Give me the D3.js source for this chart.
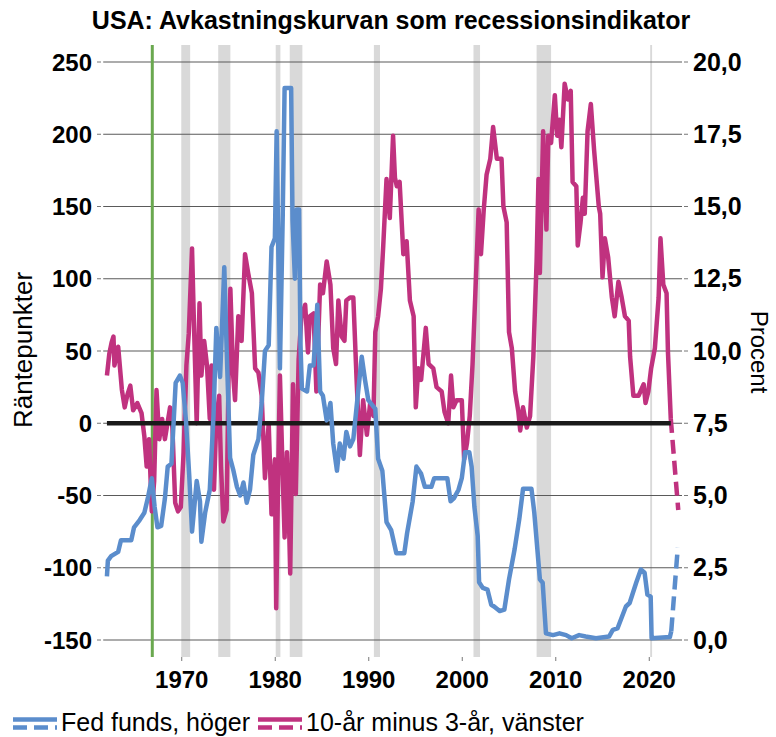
<!DOCTYPE html>
<html>
<head>
<meta charset="utf-8">
<script src="https://cdn.jsdelivr.net/npm/d3@7"></script>
<style>
  body { margin: 0; background: #fff; }
  svg { font-family: "Liberation Sans", Arial, sans-serif; }
</style>
</head>
<body>
<div class="container"></div>
<script>
// 10-år minus 3-år (räntepunkter, vänster axel)
const spreadYears = [1962.0, 1962.25, 1962.5, 1962.7, 1962.8, 1963.2, 1963.6, 1963.9, 1964.2, 1964.5, 1964.8, 1965.25, 1965.7, 1966.0, 1966.25, 1966.5, 1966.8, 1967.05, 1967.3, 1967.6, 1967.9, 1968.2, 1968.75, 1969.0, 1969.3, 1969.6, 1969.9,
  1970.2, 1970.5, 1970.75, 1971.1, 1971.3, 1971.6, 1971.9, 1972.1, 1972.4, 1972.7, 1973.0, 1973.2, 1973.45, 1973.7, 1974.0, 1974.2, 1974.45, 1974.8, 1975.0, 1975.2, 1975.5, 1975.7, 1976.05, 1976.4, 1976.77, 1977.1, 1977.5, 1977.85, 1978.2, 1978.55, 1978.9, 1979.3, 1979.6, 1979.96,
  1980.1, 1980.35, 1980.5, 1980.8, 1981.0, 1981.25, 1981.4, 1981.6, 1981.9, 1982.2, 1982.5, 1982.8, 1983.2, 1983.5, 1983.7, 1984.1, 1984.4, 1984.8, 1985.1, 1985.5, 1985.9, 1986.2, 1986.5, 1986.75, 1987.1, 1987.4, 1987.6, 1988.0, 1988.35, 1988.7, 1989.05, 1989.4, 1989.8,
  1990.15, 1990.5, 1990.7, 1991.0, 1991.3, 1991.55, 1991.9, 1992.25, 1992.6, 1992.8, 1993.0, 1993.3, 1993.7, 1994.05, 1994.4, 1994.8, 1995.03, 1995.3, 1995.6, 1996.1, 1996.4, 1996.9, 1997.25, 1997.8, 1998.1, 1998.5, 1998.8, 1999.05, 1999.4, 1999.95,
  2000.2, 2000.5, 2000.8, 2001.1, 2001.4, 2001.75, 2002.0, 2002.3, 2002.6, 2003.0, 2003.3, 2003.7, 2004.2, 2004.4, 2004.75, 2005.0, 2005.3, 2005.65, 2006.0, 2006.2, 2006.5, 2006.9, 2007.25, 2007.6, 2007.95, 2008.15, 2008.3, 2008.65, 2009.0, 2009.2, 2009.5, 2009.9,
  2010.15, 2010.4, 2010.6, 2010.95, 2011.3, 2011.6, 2011.8, 2012.2, 2012.35, 2012.65, 2012.9, 2013.1, 2013.4, 2013.75, 2014.1, 2014.6, 2014.75, 2015.0, 2015.25, 2015.6, 2016.0, 2016.3, 2016.7, 2017.05, 2017.4, 2017.8, 2017.95, 2018.3, 2018.85, 2019.4, 2019.6, 2019.9,
  2020.2, 2020.6, 2021.0, 2021.2, 2021.5, 2021.85, 2022.0, 2022.3];
const spreadBp = [33, 48, 56, 60, 40, 53, 23, 11, 20, 26, 9, 14, 7, -9, -30, -11, -61, -40, 23, -11, 3, -11, 11, -3, -55, -61, -58,
  -20, 40, 62, 121, 70, 0, 83, 33, 57, 40, 3, 40, -46, 3, 19, -30, -68, -60, 30, 93, 33, 16, 74, 57, 117, 104, 90, 38, 35, 19, -38, 0, -63, -25,
  -128, -20, 33, -36, -79, -20, -49, -104, 27, -49, 44, 74, 82, 49, 74, 76, 22, 96, 90, 112, 96, 52, 41, 85, 60, 57, 85, 87, 87, 30, -22, 16, -8,
  14, 5, 63, 74, 93, 123, 169, 142, 199, 170, 164, 167, 117, 126, 85, 74, 11, 38, 30, 66, 41, 38, 25, 22, 8, 0, 33, 11, 16, 16,
  -25, -14, 5, 41, 90, 148, 117, 148, 172, 183, 205, 183, 183, 150, 139, 63, 52, 22, 8, -5, 11, -3, 5, 46, 112, 169, 104, 202, 134, 199, 194, 227,
  199, 210, 191, 235, 224, 230, 167, 164, 123, 139, 156, 145, 202, 221, 189, 150, 145, 101, 128, 115, 87, 74, 98, 87, 74, 71, 46, 19, 19, 27, 14, 22,
  38, 52, 87, 128, 96, 90, 49, 3];
const spreadForecastYears = [2022.3, 2023.1];
const spreadForecastBp = [3, -60];

// Fed funds (procent, höger axel)
const fedYears = [1962.0, 1962.1, 1962.45, 1963.2, 1963.5, 1964.6, 1964.9, 1965.5, 1966.0, 1966.4, 1966.8, 1967.1, 1967.4, 1967.8, 1968.2, 1968.5, 1968.9, 1969.35, 1969.8,
  1970.1, 1970.45, 1970.8, 1971.1, 1971.6, 1971.95, 1972.1, 1972.5, 1973.0, 1973.4, 1973.7, 1974.1, 1974.55, 1974.8, 1975.17, 1975.5, 1975.9, 1976.25, 1976.6, 1976.95, 1977.3, 1977.65, 1978.2, 1978.55, 1978.9, 1979.3, 1979.6, 1979.96,
  1980.15, 1980.5, 1980.8, 1981.0, 1981.7, 1981.85, 1982.1, 1982.3, 1982.55, 1982.7, 1982.85, 1983.4, 1983.7, 1984.1, 1984.5, 1984.8, 1985.1, 1985.5, 1985.9, 1986.2, 1986.6, 1986.9, 1987.3, 1987.6, 1988.0, 1988.35, 1988.9, 1989.25, 1989.6, 1989.95,
  1990.7, 1991.0, 1991.45, 1991.9, 1992.4, 1992.95, 1993.8, 1994.1, 1994.7, 1995.1, 1995.6, 1996.0, 1996.7, 1997.0, 1998.4, 1998.75, 1999.1, 1999.6, 1999.95,
  2000.3, 2000.75, 2001.0, 2001.3, 2001.65, 2001.8, 2002.2, 2002.7, 2003.1, 2003.4, 2004.0, 2004.5, 2005.0, 2005.6, 2006.1, 2006.5, 2007.4, 2007.7, 2008.3, 2008.6, 2008.95, 2009.7,
  2010.4, 2011.1, 2011.7, 2012.5, 2013.2, 2014.3, 2015.7, 2016.1, 2016.6, 2017.5, 2017.9, 2018.6, 2019.1, 2019.5, 2019.8, 2020.15, 2020.25, 2022.2, 2022.35];
const fedPct = [2.2, 2.75, 2.9, 3.05, 3.45, 3.45, 3.9, 4.15, 4.4, 4.95, 5.6, 4.6, 3.9, 3.95, 4.9, 6.0, 6.1, 8.9, 9.15,
  8.9, 7.6, 5.7, 3.75, 5.5, 4.8, 3.4, 4.4, 5.2, 7.8, 10.8, 9.1, 12.9, 10.1, 6.3, 5.9, 5.3, 5.0, 5.45, 4.75, 5.2, 6.4, 6.95, 8.2, 10.0, 10.2, 13.6, 13.9,
  17.6, 9.4, 14.7, 19.1, 19.1, 14.5, 12.5, 14.9, 14.9, 10.2, 8.7, 8.6, 9.5, 9.5, 11.6, 8.6, 8.45, 7.6, 8.2, 6.8, 5.86, 6.8, 6.27, 7.2, 6.7, 6.95, 8.7, 9.8, 9.0, 8.3,
  8.0, 6.27, 5.86, 4.08, 3.8, 3.0, 3.0, 3.7, 4.8, 6.0, 5.75, 5.3, 5.3, 5.6, 5.6, 4.8, 4.9, 5.2, 5.6,
  6.5, 6.5, 6.0, 4.6, 3.6, 2.0, 1.8, 1.74, 1.22, 1.16, 1.0, 1.05, 2.1, 3.14, 4.19, 5.23, 5.23, 4.42, 2.1, 1.98, 0.23, 0.17,
  0.23, 0.17, 0.06, 0.17, 0.12, 0.06, 0.12, 0.35, 0.4, 1.16, 1.28, 1.98, 2.44, 2.33, 1.57, 1.5, 0.06, 0.1, 0.3];
const fedForecastYears = [2022.35, 2023.05];
const fedForecastPct = [0.3, 3.2];

// Recessioner (NBER)
const recessionStart = [1969.95, 1973.9, 1980.05, 1981.55, 1990.55, 2001.2, 2007.95, 2020.1];
const recessionEnd = [1970.9, 1975.2, 1980.55, 1982.9, 1991.2, 2001.9, 2009.5, 2020.3];
const markerYear = 1966.85;

const leftTicks = [250, 200, 150, 100, 50, 0, -50, -100, -150];
const rightTicks = [20, 17.5, 15, 12.5, 10, 7.5, 5, 2.5, 0];
const yearTicks = [1970, 1980, 1990, 2000, 2010, 2020];

const width = 776, height = 737;
const blue = '#5b8dcc', pink = '#c0327f';

const svg = d3.select('.container').append('svg')
  .attr('width', width).attr('height', height);

const x = d3.scaleLinear().domain([1961.6, 2023.5]).range([103.2, 682]);
const yL = d3.scaleLinear().domain([-150, 250]).range([640, 62]);
const yR = d3.scaleLinear().domain([0, 20]).range([640, 62]);
const plotTop = 45, plotBottom = 657;

// recession bands
svg.selectAll('rect.rec')
  .data(recessionStart.map((s, i) => [s, recessionEnd[i]]))
  .enter().append('rect')
  .attr('class', 'rec')
  .attr('x', d => x(d[0]))
  .attr('width', d => x(d[1]) - x(d[0]))
  .attr('y', plotTop).attr('height', plotBottom - plotTop)
  .attr('fill', '#d9d9d9');

// gridlines
svg.selectAll('line.grid').data(leftTicks).enter().append('line')
  .attr('x1', x.range()[0]).attr('x2', x.range()[1])
  .attr('y1', d => yL(d)).attr('y2', d => yL(d))
  .attr('stroke', '#5a5a5a').attr('stroke-width', 1.2);

// left / right axis tick marks and labels
svg.selectAll('line.lt').data(leftTicks).enter().append('line')
  .attr('x1', 97).attr('x2', 101).attr('y1', d => yL(d)).attr('y2', d => yL(d))
  .attr('stroke', '#777').attr('stroke-width', 1);
svg.selectAll('line.rt').data(rightTicks).enter().append('line')
  .attr('x1', 684).attr('x2', 688).attr('y1', d => yR(d)).attr('y2', d => yR(d))
  .attr('stroke', '#777').attr('stroke-width', 1);

svg.selectAll('text.lt').data(leftTicks).enter().append('text')
  .attr('x', 92).attr('y', d => yL(d) + 8.5)
  .attr('text-anchor', 'end')
  .attr('font-size', '24px').attr('font-weight', 'bold')
  .text(d => d);
svg.selectAll('text.rt').data(rightTicks).enter().append('text')
  .attr('x', 693).attr('y', d => yR(d) + 8.5)
  .attr('font-size', '25px').attr('font-weight', 'bold')
  .text(d => d3.format('.1f')(d).replace('.', ','));

// x ticks
svg.selectAll('line.xt').data(yearTicks).enter().append('line')
  .attr('x1', d => x(d)).attr('x2', d => x(d))
  .attr('y1', plotBottom).attr('y2', plotBottom + 4)
  .attr('stroke', '#777');
svg.selectAll('text.xt').data(yearTicks).enter().append('text')
  .attr('x', d => x(d)).attr('y', 688)
  .attr('text-anchor', 'middle')
  .attr('font-size', '24px').attr('font-weight', 'bold')
  .text(d => d);

// green marker line
svg.append('line')
  .attr('x1', x(markerYear)).attr('x2', x(markerYear))
  .attr('y1', plotTop).attr('y2', plotBottom)
  .attr('stroke', '#6aa84f').attr('stroke-width', 3);

const lineL = d3.line().x(d => x(d[0])).y(d => yL(d[1]));
const lineR = d3.line().x(d => x(d[0])).y(d => yR(d[1]));
const zip = (a, b) => a.map((v, i) => [v, b[i]]);

svg.append('path')
  .attr('d', lineL(zip(spreadYears, spreadBp)))
  .attr('fill', 'none').attr('stroke', pink).attr('stroke-width', 4.5)
  .attr('stroke-linejoin', 'round');
svg.append('path')
  .attr('d', lineL(zip(spreadForecastYears, spreadForecastBp)))
  .attr('fill', 'none').attr('stroke', pink).attr('stroke-width', 4.5)
  .attr('stroke-dasharray', '14,7');

// zero line
svg.append('line')
  .attr('x1', x(spreadYears[0])).attr('x2', x(spreadYears[spreadYears.length - 1]))
  .attr('y1', yL(0)).attr('y2', yL(0))
  .attr('stroke', '#1a1a1a').attr('stroke-width', 4.5);

svg.append('path')
  .attr('d', lineR(zip(fedYears, fedPct)))
  .attr('fill', 'none').attr('stroke', blue).attr('stroke-width', 4.5)
  .attr('stroke-linejoin', 'round');
svg.append('path')
  .attr('d', lineR(zip(fedForecastYears, fedForecastPct)))
  .attr('fill', 'none').attr('stroke', blue).attr('stroke-width', 4.5)
  .attr('stroke-dasharray', '14,7');

// title and axis titles
svg.append('text')
  .attr('x', 391).attr('y', 29)
  .attr('text-anchor', 'middle')
  .attr('font-size', '25px').attr('font-weight', 'bold')
  .text('USA: Avkastningskurvan som recessionsindikator');

svg.append('text')
  .attr('transform', 'translate(32,350) rotate(-90)')
  .attr('text-anchor', 'middle').attr('font-size', '26px')
  .text('Räntepunkter');
svg.append('text')
  .attr('transform', 'translate(751,352) rotate(90)')
  .attr('text-anchor', 'middle').attr('font-size', '24px')
  .text('Procent');

// legend
const legendItems = [
  { name: 'Fed funds, höger', color: blue, x: 13 },
  { name: '10-år minus 3-år, vänster', color: pink, x: 258 }
];
const lg = svg.selectAll('g.legend').data(legendItems).enter().append('g')
  .attr('transform', d => `translate(${d.x},0)`);
lg.append('line').attr('x1', 0).attr('x2', 44).attr('y1', 719.5).attr('y2', 719.5)
  .attr('stroke', d => d.color).attr('stroke-width', 4.5);
lg.append('line').attr('x1', 0).attr('x2', 44).attr('y1', 727.5).attr('y2', 727.5)
  .attr('stroke', d => d.color).attr('stroke-width', 4.5).attr('stroke-dasharray', '14,7');
lg.append('text').attr('x', 48).attr('y', 731)
  .attr('font-size', '25px')
  .text(d => d.name);
</script>
</body>
</html>
